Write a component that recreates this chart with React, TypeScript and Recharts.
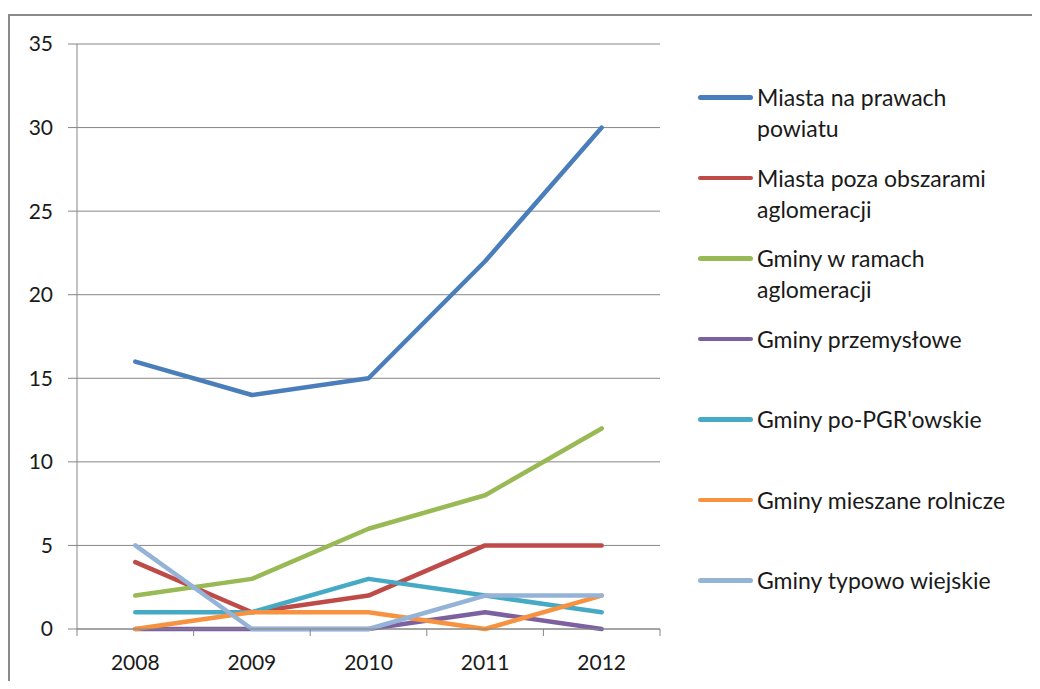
import React from 'react';
import { LineChart, Line, XAxis, YAxis, CartesianGrid } from 'recharts';

const years = ['2008', '2009', '2010', '2011', '2012'];
const yTicks = [0, 5, 10, 15, 20, 25, 30, 35];

const miastaNaPrawach = [16, 14, 15, 22, 30];
const miastaPozaAglo = [4, 1, 2, 5, 5];
const gminyAglo = [2, 3, 6, 8, 12];
const gminyPrzem = [0, 0, 0, 1, 0];
const gminyPGR = [1, 1, 3, 2, 1];
const gminyMieszane = [0, 1, 1, 0, 2];
const gminyWiejskie = [5, 0, 0, 2, 2];

const series = [
  { key: 's1', name: 'Miasta na prawach powiatu', values: miastaNaPrawach, color: '#4A7EBB' },
  { key: 's2', name: 'Miasta poza obszarami aglomeracji', values: miastaPozaAglo, color: '#BE4B48' },
  { key: 's3', name: 'Gminy w ramach aglomeracji', values: gminyAglo, color: '#98B954' },
  { key: 's4', name: 'Gminy przemysłowe', values: gminyPrzem, color: '#7D60A0' },
  { key: 's5', name: "Gminy po-PGR'owskie", values: gminyPGR, color: '#46AAC5' },
  { key: 's6', name: 'Gminy mieszane rolnicze', values: gminyMieszane, color: '#F69240' },
  { key: 's7', name: 'Gminy typowo wiejskie', values: gminyWiejskie, color: '#95B3D7' },
];

const data = years.map((year, i) => {
  const row: Record<string, string | number> = { year };
  series.forEach((s) => {
    row[s.key] = s.values[i];
  });
  return row;
});

const FONT = 'Lato, "Liberation Sans", sans-serif';
const GRID = '#868686';
const TEXT = '#1a1a1a';
const BAND = (660 - 77) / years.length;

const XTick = (props: any) => {
  const { x, y, payload, index } = props;
  const axisY = y - 25;
  const half = BAND / 2;
  return (
    <g>
      <line x1={x - half} x2={x - half} y1={axisY} y2={axisY + 7} stroke={GRID} />
      {index === years.length - 1 && (
        <line x1={x + half} x2={x + half} y1={axisY} y2={axisY + 7} stroke={GRID} />
      )}
      <text x={x} y={y} dy="0.75em" textAnchor="middle" fill={TEXT} fontSize={21} fontFamily={FONT}>
        {payload.value}
      </text>
    </g>
  );
};

export default function App() {
  return (
    <div style={{ position: 'relative', width: 1040, height: 689, margin: -8, overflow: 'hidden', background: '#fff' }}>
      <div
        style={{
          position: 'absolute',
          left: 8,
          top: 14,
          width: 1100,
          height: 800,
          borderTop: '2px solid #8a8a8a',
          borderLeft: '2px solid #8a8a8a',
        }}
      />
      <div style={{ position: 'absolute', left: 0, top: 0 }}>
        <LineChart width={1040} height={689} data={data} margin={{ top: 44, right: 380, bottom: 0, left: 0 }}>
          <CartesianGrid vertical={false} stroke={GRID} />
          <XAxis
            dataKey="year"
            scale="band"
            height={60}
            axisLine={{ stroke: GRID }}
            tickLine={false}
            tickSize={7}
            tickMargin={18}
            tick={<XTick />}
          />
          <YAxis
            width={77}
            domain={[0, 35]}
            ticks={yTicks}
            interval={0}
            axisLine={{ stroke: GRID }}
            tickLine={{ stroke: GRID }}
            tickSize={9}
            tickMargin={15}
            tick={{ fill: TEXT, fontSize: 21, fontFamily: FONT }}
          />
          {series.map((s) => (
            <Line
              key={s.key}
              dataKey={s.key}
              name={s.name}
              type="linear"
              stroke={s.color}
              strokeWidth={4.5}
              strokeLinecap="round"
              strokeLinejoin="round"
              dot={false}
              activeDot={false}
              isAnimationActive={false}
            />
          ))}
        </LineChart>
      </div>
      <div style={{ position: 'absolute', left: 698, top: 82, width: 320, fontFamily: FONT, fontSize: 23, color: TEXT }}>
        {series.map((s) => (
          <div key={s.key} style={{ display: 'flex', alignItems: 'flex-start', height: 80.5 }}>
            <div
              style={{
                width: 55,
                height: 4.5,
                borderRadius: 3,
                background: s.color,
                marginTop: 13,
                flexShrink: 0,
              }}
            />
            <div style={{ marginLeft: 4, lineHeight: '31px', width: 262 }}>{s.name}</div>
          </div>
        ))}
      </div>
    </div>
  );
}
